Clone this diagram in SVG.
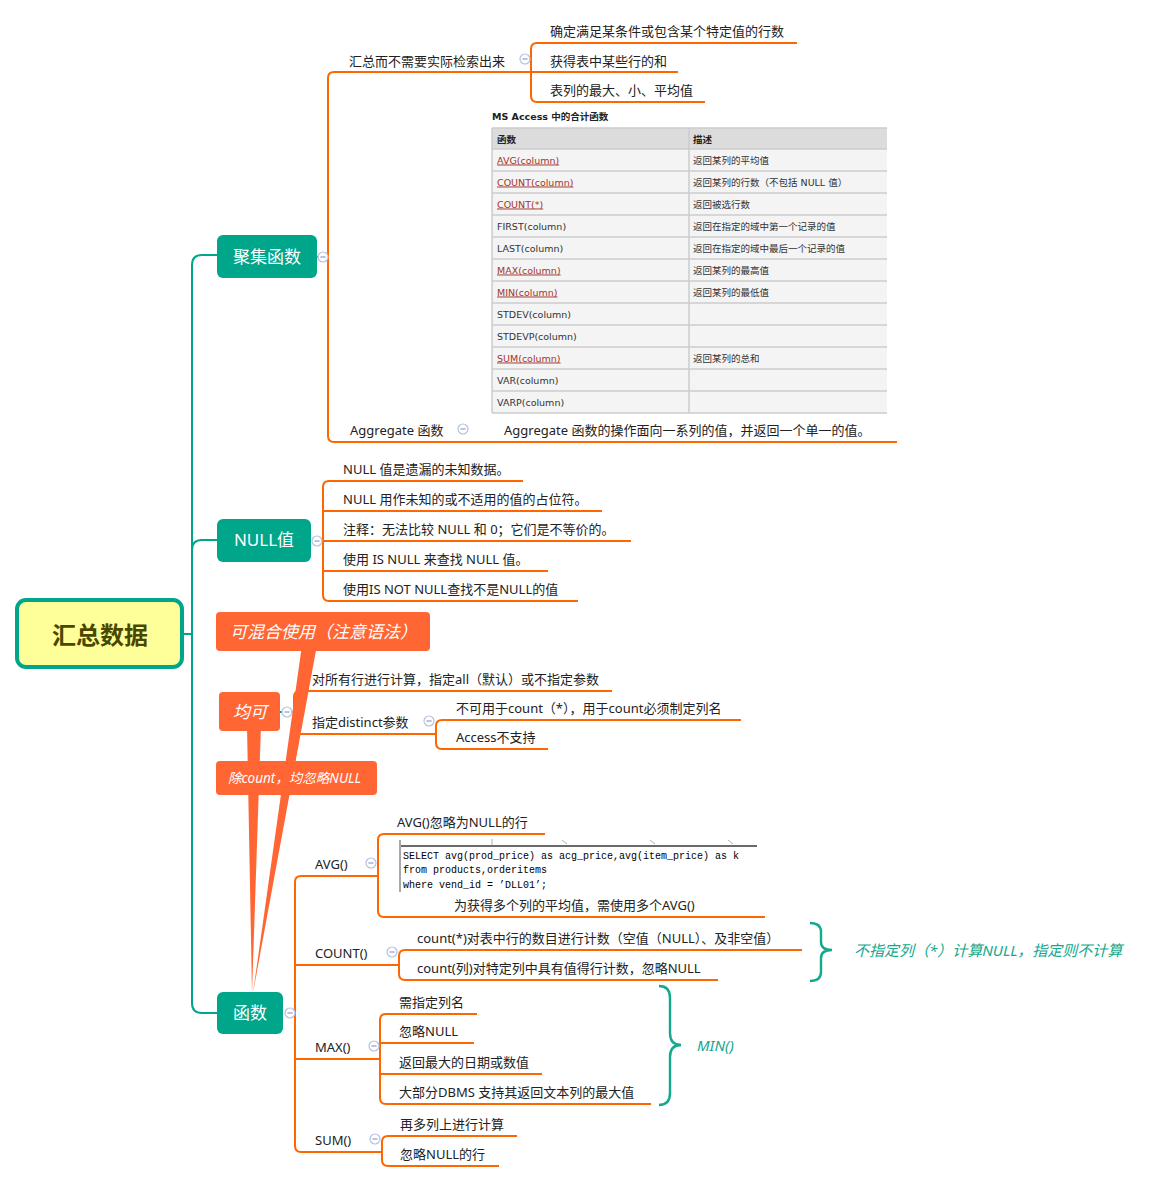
<svg xmlns="http://www.w3.org/2000/svg" xmlns:xlink="http://www.w3.org/1999/xlink" width="1156" height="1182" viewBox="0 0 1156 1182">
<style>
.t{font-family:'Noto Sans','Noto Sans CJK SC',sans-serif;font-size:13px;fill:#222}
.lo{stroke:#FF6600;stroke-width:2;fill:none}
.lt{stroke:#00A68A;stroke-width:2;fill:none}
.nd{fill:#00A68A}
.ndt{font-family:'Noto Sans','Noto Sans CJK SC',sans-serif;font-size:17px;fill:#fff;text-anchor:middle}
.co{fill:#FF6633}
.cot{font-family:'Noto Sans','Noto Sans CJK SC',sans-serif;font-style:italic;fill:#fff}
.tl{font-family:'Noto Sans','Noto Sans CJK SC',sans-serif;font-style:italic;font-size:15px;fill:#14A88C}
.tb{font-family:'DejaVu Sans','Noto Sans CJK SC',sans-serif;font-size:9.5px;fill:#333}
.lk{fill:#A3352B;text-decoration:underline}
.tg{stroke:#cbcbcb;stroke-width:1.5;fill:none}
.sql{font-family:'Liberation Mono',monospace;font-size:10px;fill:#000}
.br{stroke:#14A88C;stroke-width:2.4;fill:none}
</style>
<defs>
<g id="ci"><circle r="5" fill="#fff" stroke="#b3c0e2" stroke-width="1.2"/><line x1="-2.6" y1="0" x2="2.6" y2="0" stroke="#8c9ccc" stroke-width="1.2"/></g>
</defs>
<rect width="1156" height="1182" fill="#fff"/>

<g id="connectors">
<path class="lt" d="M183,634 H192"/>
<path class="lt" d="M192,634 V265 Q192,255 202,255 H217"/>
<path class="lt" d="M192,634 V550 Q192,540 202,540 H217"/>
<path class="lt" d="M192,634 V1003 Q192,1013 202,1013 H217"/>
<path class="lt" d="M280,712 H284"/>
<path class="lo" d="M317,257 H328"/>
<path class="lo" d="M531,72 H334 Q328,72 328,78 V436 Q328,442 334,442 H897"/>
<path class="lo" d="M797,43 H537 Q531,43 531,49 V96 Q531,102 537,102 H705"/>
<path class="lo" d="M531,72 H678"/>
<path class="lo" d="M523,481 H329 Q323,481 323,487 V595 Q323,601 329,601 H578"/>
<path class="lo" d="M323,511 H602"/>
<path class="lo" d="M317,541 H631"/>
<path class="lo" d="M323,571 H548"/>
<path class="lo" d="M612,691 H300 Q294,691 294,697 V728 Q294,734 300,734 H436"/>
<path class="lo" d="M290,712 H294"/>
<path class="lo" d="M741,720 H442 Q436,720 436,726 V743 Q436,749 442,749 H548"/>
<path class="lo" d="M378,876 H301 Q295,876 295,882 V1146 Q295,1152 301,1152 H382"/>
<path class="lo" d="M290,1013 H295"/>
<path class="lo" d="M295,965 H399"/>
<path class="lo" d="M295,1059 H380"/>
<path class="lo" d="M545,834 H384 Q378,834 378,840 V911 Q378,917 384,917 H765"/>
<path class="lo" d="M802,950 H405 Q399,950 399,956 V974 Q399,980 405,980 H718"/>
<path class="lo" d="M477,1014 H386 Q380,1014 380,1020 V1098 Q380,1104 386,1104 H651"/>
<path class="lo" d="M380,1043 H474"/>
<path class="lo" d="M380,1074 H542"/>
<path class="lo" d="M517,1136 H388 Q382,1136 382,1142 V1160 Q382,1166 388,1166 H499"/>
<polygon class="co" points="302,645 317,645 253,993"/>
<polygon class="co" points="247,725 261,725 252,993"/>
</g>

<g id="root">
<rect x="17" y="600" width="165" height="67" rx="9" fill="#FFFF99" stroke="#00A68A" stroke-width="4"/>
<text x="100" y="644" text-anchor="middle" style="font-family:'Noto Sans CJK SC',sans-serif;font-size:24px;font-weight:bold;fill:#4a4800">汇总数据</text>
</g>

<g id="n-juji">
<rect class="nd" x="217" y="235" width="100" height="43" rx="6"/>
<text class="ndt" x="267" y="263">聚集函数</text>
<use href="#ci" x="323" y="257"/>
</g>

<g id="n-huizong">
<text class="t" x="349" y="66">汇总而不需要实际检索出来</text>
<use href="#ci" x="525" y="59"/>
</g>
<g id="n-h1"><text class="t" x="550" y="36">确定满足某条件或包含某个特定值的行数</text></g>
<g id="n-h2"><text class="t" x="550" y="66">获得表中某些行的和</text></g>
<g id="n-h3"><text class="t" x="550" y="95">表列的最大、小、平均值</text></g>

<g id="n-table">
<text x="492" y="119.5" class="tb" style="font-weight:bold;fill:#222">MS Access 中的合计函数</text>
<rect x="492" y="128" width="395" height="21" fill="#dcdcdc"/>
<rect x="492" y="149" width="395" height="264" fill="#f4f4f4"/>
<path class="tg" d="M492,128 H887 M492,149 H887 M492,171 H887 M492,193 H887 M492,215 H887 M492,237 H887 M492,259 H887 M492,281 H887 M492,303 H887 M492,325 H887 M492,347 H887 M492,369 H887 M492,391 H887 M492,413 H887 M492,128 V413 M689,128 V413"/>
<text class="tb" x="497" y="142.5" style="font-weight:bold;fill:#222">函数</text>
<text class="tb" x="693" y="142.5" style="font-weight:bold;fill:#222">描述</text>
<text class="tb lk" x="497" y="163.5">AVG(column)</text>
<text class="tb" x="693" y="163.5">返回某列的平均值</text>
<text class="tb lk" x="497" y="185.5">COUNT(column)</text>
<text class="tb" x="693" y="185.5">返回某列的行数（不包括 NULL 值）</text>
<text class="tb lk" x="497" y="207.5">COUNT(*)</text>
<text class="tb" x="693" y="207.5">返回被选行数</text>
<text class="tb" x="497" y="229.5">FIRST(column)</text>
<text class="tb" x="693" y="229.5">返回在指定的域中第一个记录的值</text>
<text class="tb" x="497" y="251.5">LAST(column)</text>
<text class="tb" x="693" y="251.5">返回在指定的域中最后一个记录的值</text>
<text class="tb lk" x="497" y="273.5">MAX(column)</text>
<text class="tb" x="693" y="273.5">返回某列的最高值</text>
<text class="tb lk" x="497" y="295.5">MIN(column)</text>
<text class="tb" x="693" y="295.5">返回某列的最低值</text>
<text class="tb" x="497" y="317.5">STDEV(column)</text>
<text class="tb" x="497" y="339.5">STDEVP(column)</text>
<text class="tb lk" x="497" y="361.5">SUM(column)</text>
<text class="tb" x="693" y="361.5">返回某列的总和</text>
<text class="tb" x="497" y="383.5">VAR(column)</text>
<text class="tb" x="497" y="405.5">VARP(column)</text>
</g>

<g id="n-aggregate">
<text class="t" x="350" y="435">Aggregate 函数</text>
<use href="#ci" x="463" y="429"/>
</g>
<g id="n-agg1"><text class="t" x="504" y="435">Aggregate 函数的操作面向一系列的值，并返回一个单一的值。</text></g>

<g id="n-null">
<rect class="nd" x="217" y="519" width="94" height="43" rx="6"/>
<text class="ndt" x="264" y="546">NULL值</text>
<use href="#ci" x="317" y="541"/>
</g>
<g id="n-null1"><text class="t" x="343" y="474">NULL 值是遗漏的未知数据。</text></g>
<g id="n-null2"><text class="t" x="343" y="504">NULL 用作未知的或不适用的值的占位符。</text></g>
<g id="n-null3"><text class="t" x="343" y="534">注释：无法比较 NULL 和 0；它们是不等价的。</text></g>
<g id="n-null4"><text class="t" x="343" y="564">使用 IS NULL 来查找 NULL 值。</text></g>
<g id="n-null5"><text class="t" x="343" y="594">使用IS NOT NULL查找不是NULL的值</text></g>

<g id="c-mix">
<rect class="co" x="216" y="612" width="214" height="39" rx="4"/>
<text class="cot" x="230" y="638" style="font-size:17px">可混合使用（注意语法）</text>
</g>
<g id="c-junke">
<rect class="co" x="219" y="692" width="61" height="39" rx="4"/>
<text class="cot" x="250" y="718" style="font-size:17px" text-anchor="middle">均可</text>
<use href="#ci" x="287" y="712"/>
</g>
<g id="n-all"><text class="t" x="312" y="684">对所有行进行计算，指定all（默认）或不指定参数</text></g>
<g id="n-distinct">
<text class="t" x="312" y="727">指定distinct参数</text>
<use href="#ci" x="429" y="721"/>
</g>
<g id="n-d1"><text class="t" x="456" y="713">不可用于count（*），用于count必须制定列名</text></g>
<g id="n-d2"><text class="t" x="456" y="742">Access不支持</text></g>
<g id="c-count">
<rect class="co" x="216" y="761" width="161" height="34" rx="4"/>
<text class="cot" x="228" y="783" style="font-size:13.5px">除count，均忽略NULL</text>
</g>

<g id="n-func">
<rect class="nd" x="217" y="992" width="66" height="42" rx="6"/>
<text class="ndt" x="250" y="1019">函数</text>
<use href="#ci" x="290" y="1013"/>
</g>

<g id="n-avg">
<text class="t" x="315" y="869">AVG()</text>
<use href="#ci" x="371" y="863"/>
</g>
<g id="n-avg1"><text class="t" x="397" y="827">AVG()忽略为NULL的行</text></g>
<g id="n-avg2">
<rect x="400" y="840" width="357" height="52" fill="#fff"/>
<path d="M400,846 H757" stroke="#6a6a6a" stroke-width="2" fill="none"/>
<path d="M400,840 V892" stroke="#a8a8a8" stroke-width="2" fill="none"/>
<path d="M492,839 V845 M562,840 L567,844 M650,840 L655,844 M728,840 L733,844" stroke="#b0b0b0" stroke-width="1" fill="none"/>
<text class="sql" x="403" y="859">SELECT avg(prod_price) as acg_price,avg(item_price) as k</text>
<text class="sql" x="403" y="872.5">from products,orderitems</text>
<text class="sql" x="403" y="887.5">where vend_id = ’DLL01’;</text>
<text class="t" x="454" y="910">为获得多个列的平均值，需使用多个AVG()</text>
</g>

<g id="n-count">
<text class="t" x="315" y="958">COUNT()</text>
<use href="#ci" x="392" y="952"/>
</g>
<g id="n-count1"><text class="t" x="417" y="943">count(*)对表中行的数目进行计数（空值（NULL）、及非空值）</text></g>
<g id="n-count2"><text class="t" x="417" y="973">count(列)对特定列中具有值得行计数，忽略NULL</text></g>
<g id="b-count">
<path class="br" d="M810,923 Q821,923 821,932 V942 Q821,950 832,950 Q821,950 821,958 V972 Q821,981 810,981"/>
<text class="tl" x="854" y="956">不指定列（*）计算NULL，指定则不计算</text>
</g>

<g id="n-max">
<text class="t" x="315" y="1052">MAX()</text>
<use href="#ci" x="374" y="1046"/>
</g>
<g id="n-max1"><text class="t" x="399" y="1007">需指定列名</text></g>
<g id="n-max2"><text class="t" x="399" y="1036">忽略NULL</text></g>
<g id="n-max3"><text class="t" x="399" y="1067">返回最大的日期或数值</text></g>
<g id="n-max4"><text class="t" x="399" y="1097">大部分DBMS 支持其返回文本列的最大值</text></g>
<g id="b-max">
<path class="br" d="M659,986 Q670,986 670,998 V1033 Q670,1045 681,1045 Q670,1045 670,1057 V1093 Q670,1105 659,1105"/>
<text class="tl" x="697" y="1051">MIN()</text>
</g>

<g id="n-sum">
<text class="t" x="315" y="1145">SUM()</text>
<use href="#ci" x="375" y="1139"/>
</g>
<g id="n-sum1"><text class="t" x="400" y="1129">再多列上进行计算</text></g>
<g id="n-sum2"><text class="t" x="400" y="1159">忽略NULL的行</text></g>
</svg>
